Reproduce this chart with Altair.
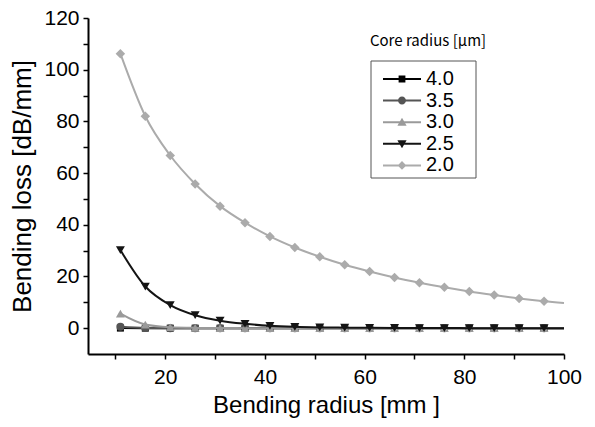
import altair as alt
import pandas as pd

# Bending radius [mm] of each computed point
bend_radius = [11, 16, 21, 26, 31, 36, 41, 46, 51, 56, 61, 66, 71, 76, 81, 86, 91, 96]
curve_end_radius = 100

core_radii = ["4.0", "3.5", "3.0", "2.5", "2.0"]

# Bending loss [dB/mm] per core radius [um]
loss_r40 = [0.02, 0.0, 0.0, 0.0, 0.0, 0.0, 0.0, 0.0, 0.0, 0.0, 0.0, 0.0, 0.0, 0.0, 0.0, 0.0, 0.0, 0.0]
loss_r35 = [0.5, 0.08, 0.01, 0.0, 0.0, 0.0, 0.0, 0.0, 0.0, 0.0, 0.0, 0.0, 0.0, 0.0, 0.0, 0.0, 0.0, 0.0]
loss_r30 = [5.6, 1.4, 0.35, 0.1, 0.03, 0.01, 0.0, 0.0, 0.0, 0.0, 0.0, 0.0, 0.0, 0.0, 0.0, 0.0, 0.0, 0.0]
loss_r25 = [30.2, 16.1, 8.9, 5.0, 2.9, 1.7, 0.9, 0.5, 0.3, 0.2, 0.12, 0.07, 0.04, 0.02, 0.01, 0.01, 0.0, 0.0]
loss_r20 = [106.2, 82.0, 66.8, 55.8, 47.2, 40.8, 35.5, 31.2, 27.6, 24.5, 21.9, 19.6, 17.6, 15.8, 14.2, 12.8, 11.5, 10.4]
loss_at_curve_end = [0.0, 0.0, 0.0, 0.0, 9.7]

series_loss = [loss_r40, loss_r35, loss_r30, loss_r25, loss_r20]
series_color = ["#000000", "#555555", "#9a9a9a", "#141414", "#ababab"]
series_shape = ["square", "circle", "triangle-up", "triangle-down", "diamond"]
series_size = [49, 64, 80, 80, 90]

# Legend symbols: a short line segment with the series marker on it
legend_paths = [
    "M-4.75,-0.25H4.75V0.25H-4.75Z M-0.85,-0.85H0.85V0.85H-0.85Z",
    "M-4.75,-0.25H4.75V0.25H-4.75Z M-1,0A1,1 0 1,1 1,0A1,1 0 1,1 -1,0Z",
    "M-4.75,-0.25H4.75V0.25H-4.75Z M0,-1.1L1.15,0.9H-1.15Z",
    "M-4.75,-0.25H4.75V0.25H-4.75Z M-1.15,-0.9H1.15L0,1.1Z",
    "M-4.75,-0.25H4.75V0.25H-4.75Z M0,-1.1L1.1,0L0,1.1L-1.1,0Z",
]

FONT = "Liberation Sans"

x_enc = alt.X(
    "radius:Q",
    scale=alt.Scale(domain=[4.5, 100], nice=False, zero=False),
    axis=alt.Axis(
        title="Bending radius [mm ]",
        values=list(range(10, 101, 10)),
        labelExpr="datum.value % 20 == 0 ? datum.label : ''",
        labelFlush=False,
        labelOverlap=False,
        labelPadding=7,
        titlePadding=6,
        titleFontSize=24,
    ),
)
y_enc = alt.Y(
    "loss:Q",
    scale=alt.Scale(domain=[-10, 120], nice=False, zero=False),
    axis=alt.Axis(
        title="Bending loss [dB/mm]",
        values=list(range(0, 121, 10)),
        labelExpr="datum.value % 20 == 0 ? datum.label : ''",
        labelOverlap=False,
        labelPadding=4,
        titlePadding=8,
        titleFontSize=26,
    ),
)

layers = []
for name, loss, color, shape, size, end in zip(
    core_radii, series_loss, series_color, series_shape, series_size, loss_at_curve_end
):
    curve_df = pd.DataFrame({"radius": bend_radius + [curve_end_radius], "loss": loss + [end]})
    point_df = pd.DataFrame({"radius": bend_radius, "loss": loss})
    layers.append(
        alt.Chart(curve_df)
        .mark_line(color=color, strokeWidth=2, interpolate="monotone")
        .encode(x=x_enc, y=y_enc)
    )
    layers.append(
        alt.Chart(point_df)
        .mark_point(filled=True, shape=shape, size=size, color=color, opacity=1)
        .encode(x=x_enc, y=y_enc)
    )

legend_style = alt.Legend(
    title=None,
    orient="none",
    legendX=289,
    legendY=51,
    padding=0,
    symbolSize=64,
    symbolStrokeWidth=0,
    symbolOpacity=1,
    symbolOffset=15,
    labelOffset=14,
    labelFont=FONT,
    labelFontSize=20,
    labelColor="#000000",
    rowPadding=1.6,
)
legend_df = pd.DataFrame({"core": core_radii})
legend_layer = (
    alt.Chart(legend_df)
    .mark_point(filled=True, opacity=1)
    .encode(
        color=alt.Color("core:N", scale=alt.Scale(domain=core_radii, range=series_color), legend=legend_style),
        shape=alt.Shape("core:N", scale=alt.Scale(domain=core_radii, range=legend_paths), legend=legend_style),
    )
    .transform_filter("false")
)

frame_df = pd.DataFrame({"k": [0]})
legend_box = (
    alt.Chart(frame_df)
    .mark_rect(fill="transparent", stroke="#555555", strokeWidth=1)
    .encode(x=alt.value(283), x2=alt.value(388), y=alt.value(43), y2=alt.value(160))
)
legend_title = (
    alt.Chart(frame_df)
    .mark_text(text="Core radius [\u03bcm]", font="Noto Sans CJK KR", fontSize=15, color="#000000",
               align="center", baseline="middle")
    .encode(x=alt.value(340), y=alt.value(23))
)

chart = (
    alt.layer(*layers, legend_box, legend_title, legend_layer)
    .properties(
        width=476,
        height=336,
        autosize=alt.AutoSizeParams(type="none"),
        padding={"left": 88, "top": 18, "right": 31, "bottom": 73},
        background="white",
    )
    .configure_view(stroke=None)
    .configure_axis(
        grid=False,
        domainColor="#000000",
        domainWidth=2,
        tickColor="#000000",
        tickWidth=1.5,
        tickSize=5,
        labelFont=FONT,
        labelFontSize=21,
        labelColor="#000000",
        titleFont=FONT,
        titleFontWeight="normal",
        titleColor="#000000",
    )
)

chart.save("out.html", embed_options={"renderer": "svg", "actions": False})
